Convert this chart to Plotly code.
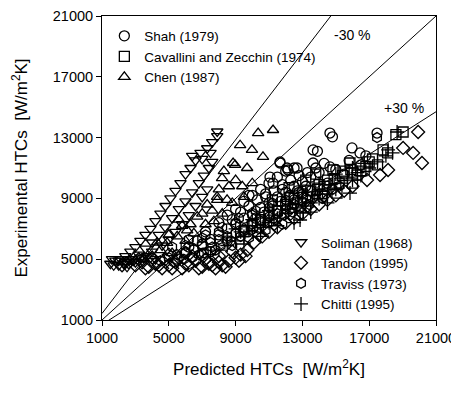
import plotly.graph_objects as go

# ---- data (W/m^2K) : predicted (x) vs experimental (y) ----
shah_x = [5500, 6000, 6500, 7000, 7500, 8000, 8500, 9000, 9500, 10000, 10500, 11000, 11500, 12000, 12500, 13000, 13500, 14000,
          8000, 8500, 9000, 9500, 10000, 10500, 11000, 11500, 12000, 12500, 13640, 14650,
          11060, 11660, 12140, 11240, 11660, 12080, 12680, 13640, 13900, 14650, 14800, 15970, 16450, 17470,
          7500, 8500, 9500, 10500, 11500, 12500, 13500, 14500, 15500, 16500,
          9800, 10800, 11800, 12800, 7200, 6700, 6200, 12400, 13200,
          8800, 9300, 9800, 10300, 10800, 11300, 11800, 12300, 12800, 13300, 13800, 14300,
          10200, 10700, 11200, 11700, 12200, 12700, 13200, 15000, 15800, 16800]
shah_y = [5000, 5400, 5600, 6000, 6300, 6600, 7000, 7300, 7700, 8000, 8400, 8700, 9100, 9400, 9800, 10100, 10400, 10700,
          7400, 7900, 8300, 8800, 9200, 9600, 10000, 10400, 10800, 11000, 11330, 11070,
          10400, 11330, 10870, 10000, 11400, 11000, 11000, 12190, 12100, 13300, 13050, 12320, 11990, 13300,
          5500, 6200, 6900, 7600, 8200, 8900, 9500, 10000, 10600, 11200,
          9200, 9300, 9600, 9400, 6800, 6200, 5800, 8400, 9000,
          7600, 8100, 8500, 8900, 9100, 9500, 9900, 10200, 10500, 10700, 11000, 11300,
          7700, 8100, 8500, 8800, 9100, 9500, 9800, 10900, 11500, 11800]

cav_x = [10000, 10500, 11000, 11500, 12000, 12500, 13000, 13500, 14000, 14500, 14830, 15070, 15500, 15850, 16270,
         16800, 17200, 17830, 18100, 19030, 18600, 12200, 13200, 14200, 15200, 16000, 9500, 11200, 13800, 17500,
         12700, 13300, 13900, 14300, 14900, 15400, 15900, 16500, 17000]
cav_y = [7200, 7600, 7900, 8200, 8600, 9000, 9300, 9500, 9900, 10200, 10870, 9350, 10800, 11330, 10540,
         11100, 11600, 12190, 12000, 13370, 13200, 9700, 10200, 9300, 10000, 10000, 6800, 8900, 10600, 11200,
         8700, 9100, 9600, 9800, 10300, 10500, 10900, 10800, 11400]

chen_x = [4900, 6100, 6700, 7900, 8190, 8850, 9270, 9980, 10350, 11240, 10640, 9690, 8970, 7890, 8490,
          5500, 5800, 6300, 7000, 7300, 7600, 8000, 8600, 9000, 9400, 4000, 4500, 5200, 6000, 6500,
          7200, 7700, 8200, 8800, 9500, 10000, 3500, 4300, 5000, 5600, 8300]
chen_y = [6070, 6900, 7800, 8900, 10340, 11330, 12500, 12190, 13300, 13500, 11730, 11000, 11200, 9100, 8900,
          6500, 7200, 7300, 8000, 8600, 8200, 9600, 9800, 10200, 9800, 5200, 5600, 5400, 6200, 6700,
          7300, 7500, 8000, 8700, 9100, 10000, 5000, 6100, 6600, 7600, 10800]

soliman_x = [1500, 1800, 2100, 2400, 2700, 3000, 3300, 3600, 3900, 4200, 4500, 4800, 5100, 5400, 5700, 6000, 6300, 6600, 6900,
             2000, 2400, 2800, 3200, 3600, 4000, 4400, 4800, 5200, 5600, 6000, 6400, 6800, 7100, 7400, 7600,
             3000, 3500, 4000, 4600, 5000, 5400, 5800, 6200, 6600, 7000, 7300,
             7300, 7600, 7900, 7900, 6400, 7000, 7500,
             1700, 2000, 2300, 2600, 2900, 3300, 3700, 4200, 1600, 2500]
soliman_y = [4700, 4900, 5000, 5200, 5500, 5800, 6200, 6600, 7000, 7500, 8000, 8500, 9000, 9500, 10000, 10600, 11000, 11500, 12000,
             4600, 4800, 5000, 5300, 5700, 6100, 6600, 7100, 7700, 8300, 8800, 9400, 10000, 10500, 11000, 11400,
             4800, 5100, 5500, 5900, 6300, 6800, 7300, 7900, 8500, 9100, 9600,
             12300, 12700, 13100, 13400, 11800, 11600, 12000,
             4600, 4900, 4700, 5000, 4900, 5100, 5200, 5000, 5000, 4500]

tandon_x = [3000, 3400, 3800, 4200, 4600, 5000, 5400, 5800, 6200, 6600, 7000, 7400, 7800, 8200, 8600, 9000, 9300, 9700,
            10100, 10600, 11000, 11500, 12000, 12500, 13000, 13500, 14000, 14500, 15000, 15500, 16000, 16870, 17650,
            18130, 19030, 19630, 20160, 19930,
            3200, 4000, 4800, 5600, 6400, 7200, 8000, 8800, 9600, 10400, 11300, 12300, 13300, 14300,
            2200, 2600, 3600, 4400, 5200, 6000, 6800, 7600, 8400, 9200, 5000, 6000, 7000, 8000]
tandon_y = [4600, 4800, 4500, 4700, 4400, 4600, 4800, 4400, 4600, 4900, 4500, 4700, 4400, 4600, 4900, 5100, 5300, 5600,
            6100, 6500, 6800, 7100, 7400, 7700, 8000, 8300, 8600, 8900, 9200, 9500, 9800, 10210, 10540,
            10870, 12320, 11990, 11330, 13370,
            5000, 5100, 5000, 5100, 5200, 5000, 5200, 5500, 5200, 6600, 7300, 8000, 8500, 9200,
            4600, 4800, 4400, 4600, 4400, 4700, 4400, 4600, 4500, 4900, 5300, 5400, 5300, 4800]

traviss_x = [4500, 5000, 5500, 6000, 6500, 7000, 7500, 8000, 8500, 9000, 9500, 10000, 10500, 11000, 11500, 12000, 12500, 13000,
             5200, 6200, 7200, 8200, 9200, 10200, 11200, 12200,
             6800, 7800, 8800, 9800, 10800, 11800, 12800, 17470, 13800, 14800,
             5300, 5900, 6400, 7100, 7600, 8100, 8700, 9300, 9900, 10400, 10900, 11400, 11900, 12400, 12900, 13400,
             6000, 7000, 8000, 9000, 10000, 11000, 12000, 13000, 14200, 15200]
traviss_y = [4900, 5100, 5300, 5500, 5700, 5900, 6100, 6300, 6500, 6700, 7000, 7300, 7500, 7800, 8000, 8300, 8600, 8800,
             5800, 6300, 6600, 7100, 7700, 8200, 8700, 9200,
             5300, 5600, 5900, 6400, 6900, 7300, 7900, 13000, 9200, 9600,
             4800, 5000, 5100, 5400, 5800, 5900, 6200, 6500, 6900, 7000, 7400, 7600, 7900, 8100, 8400, 8600,
             5900, 6400, 6800, 7400, 7900, 8400, 8900, 9300, 9000, 9800]

chitti_x = [7500, 8000, 8500, 9000, 9500, 10000, 10500, 11000, 11500, 12000, 12860, 13040, 13500, 14000, 14500, 15000,
            15850, 16000, 16500, 17000, 17500, 18000, 18670, 18130, 18400,
            9000, 10000, 11000, 12000, 13000, 14000, 15000, 16000, 8500, 9500, 10500, 11500, 12500, 13500, 14500,
            12200, 12600, 13200, 13700, 14200, 14700, 15300, 15700, 16300, 16700, 10700, 11300, 11800, 9800, 9300]
chitti_y = [5300, 5600, 5900, 6200, 6500, 6800, 7100, 7400, 7700, 8000, 7580, 8040, 8700, 9000, 9300, 9600,
            9350, 10200, 10500, 11000, 11400, 11800, 13370, 12190, 12000,
            7000, 7600, 8200, 8800, 9400, 10000, 10600, 11000, 6400, 6000, 6500, 7200, 7400, 8100, 8700,
            8300, 8600, 8500, 9200, 9500, 9900, 10000, 10400, 10700, 11300, 7700, 7900, 8500, 7200, 6800]

tick_vals = [1000, 5000, 9000, 13000, 17000, 21000]
tick_text = ["1000", "5000", "9000", "13000", "17000", "21000"]
axis_range = [1000, 21000]
band_factors = [1 / 0.7, 1.0, 0.7]

FONT = "Liberation Sans, Arial, Helvetica, sans-serif"

fig = go.Figure()

# reference lines (y = x/0.7, y = x, y = 0.7x)
for f in band_factors:
    xs = [axis_range[0], axis_range[1]]
    fig.add_trace(go.Scatter(x=xs, y=[v * f for v in xs], mode="lines",
                             line=dict(color="black", width=1), showlegend=False,
                             hoverinfo="skip"))

def add(name, xs, ys, symbol, legend):
    fig.add_trace(go.Scatter(x=xs, y=ys, mode="markers", name=name, legend=legend,
                             marker=dict(symbol=symbol, size=10, color="black",
                                         line=dict(color="black", width=1.3))))

add("Shah (1979)", shah_x, shah_y, "circle-open", "legend")
add("Cavallini and Zecchin (1974)", cav_x, cav_y, "square-open", "legend")
add("Chen (1987)", chen_x, chen_y, "triangle-up-open", "legend")
add("Soliman (1968)", soliman_x, soliman_y, "triangle-down-open", "legend2")
add("Tandon (1995)", tandon_x, tandon_y, "diamond-open", "legend2")
add("Traviss (1973)", traviss_x, traviss_y, "hexagon-open", "legend2")
add("Chitti (1995)", chitti_x, chitti_y, "cross-thin-open", "legend2")

fig.add_annotation(x=15970, y=19750, text="-30 %", showarrow=False,
                   font=dict(family=FONT, size=14, color="black"))
fig.add_annotation(x=19090, y=14950, text="+30 %", showarrow=False,
                   font=dict(family=FONT, size=14, color="black"))

axis_common = dict(range=axis_range, tickvals=tick_vals, ticktext=tick_text, ticks="outside", ticklen=5,
                   tickcolor="black", showline=True, linecolor="black", linewidth=1,
                   mirror=True, showgrid=False, zeroline=False, automargin=False,
                   tickfont=dict(family=FONT, size=14.5, color="black"))

fig.update_xaxes(**axis_common,
                 title=dict(text="Predicted HTCs  [W/m<sup>2</sup>K]", standoff=17,
                            font=dict(family=FONT, size=17, color="black")))
fig.update_yaxes(**axis_common,
                 title=dict(text="Experimental HTCs  [W/m<sup>2</sup>K]", standoff=20,
                            font=dict(family=FONT, size=17, color="black")))

legend_common = dict(font=dict(family=FONT, size=13.5, color="black"), bgcolor="rgba(0,0,0,0)",
                     borderwidth=0, itemsizing="trace", tracegroupgap=0)
# the page body has an 8px default margin, so the figure is sized/offset to compensate
fig.update_layout(
    width=451, height=388,
    margin=dict(l=94, r=23, t=8, b=76),
    plot_bgcolor="white", paper_bgcolor="white",
    legend=dict(**legend_common, x=0.007, y=0.985, xanchor="left", yanchor="top"),
    legend2=dict(**legend_common, x=0.536, y=0.306, xanchor="left", yanchor="top"),
)

fig.write_html("out.html")
